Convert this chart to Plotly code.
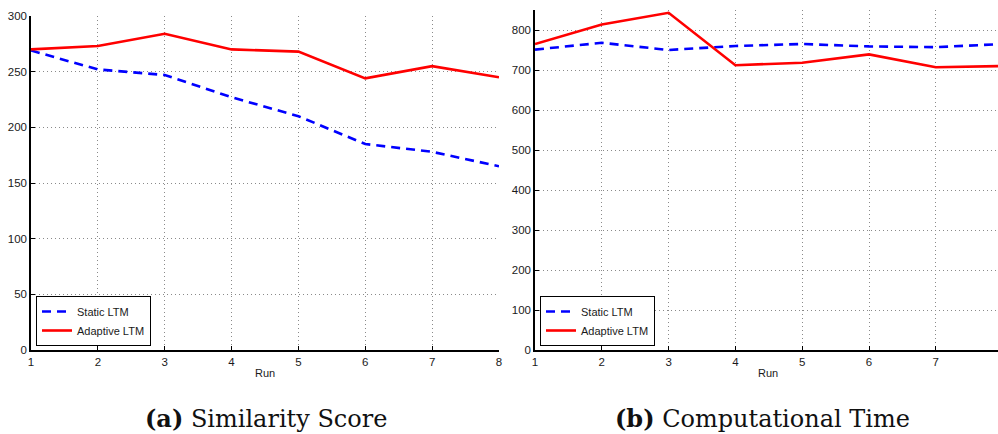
import plotly.graph_objects as go

# Run indices and measured results
runs = [1, 2, 3, 4, 5, 6, 7, 8]
score_static = [269, 252, 247, 227, 210, 185, 178, 165]
score_adaptive = [270, 273, 284, 270, 268, 244, 255, 245]
time_static = [751, 768, 750, 760, 765, 759, 757, 765]
time_adaptive = [765, 814, 843, 712, 718, 739, 707, 710]

score_ticks = [0, 50, 100, 150, 200, 250, 300]
time_ticks = [0, 100, 200, 300, 400, 500, 600, 700, 800]

W, H = 998, 434
BLUE = "#0000ff"
RED = "#ff0000"
SANS = "Liberation Sans, Arial, sans-serif"
TICK_FONT = dict(family=SANS, size=11.5, color="#1a1a1a")
LEGEND_FONT = dict(family=SANS, size=11, color="#1a1a1a")


def py(px):
    return 1 - px / H


def pxw(px):
    return px / W


fig = go.Figure()

fig.add_trace(go.Scatter(x=runs, y=score_static, mode="lines", name="Static LTM",
                         line=dict(color=BLUE, width=2.6, dash="9px,6px"),
                         xaxis="x", yaxis="y", legend="legend"))
fig.add_trace(go.Scatter(x=runs, y=score_adaptive, mode="lines", name="Adaptive LTM",
                         line=dict(color=RED, width=2.6),
                         xaxis="x", yaxis="y", legend="legend"))
fig.add_trace(go.Scatter(x=runs, y=time_static, mode="lines", name="Static LTM",
                         line=dict(color=BLUE, width=2.6, dash="9px,6px"),
                         xaxis="x2", yaxis="y2", legend="legend2"))
fig.add_trace(go.Scatter(x=runs, y=time_adaptive, mode="lines", name="Adaptive LTM",
                         line=dict(color=RED, width=2.6),
                         xaxis="x2", yaxis="y2", legend="legend2"))

axis_common = dict(
    showline=True, linecolor="#000", linewidth=1.5,
    ticks="inside", ticklen=4, tickcolor="#000",
    showgrid=True, gridcolor="#8a8a8a", gridwidth=1, griddash="1px,3px",
    zeroline=False, tickfont=TICK_FONT, automargin=False, mirror=False,
)

legend_common = dict(xanchor="left", yanchor="bottom",
                     bordercolor="#000", borderwidth=1, bgcolor="white",
                     font=LEGEND_FONT, tracegroupgap=0, itemwidth=30)

fig.update_layout(
    width=W, height=H,
    margin=dict(l=0, r=0, t=0, b=0),
    paper_bgcolor="white", plot_bgcolor="white",
    xaxis=dict(domain=[pxw(31), pxw(499)], range=[1, 8], tickvals=runs,
               anchor="y", **axis_common),
    yaxis=dict(domain=[py(350), py(16)], range=[0, 300], tickvals=score_ticks,
               anchor="x", **axis_common),
    xaxis2=dict(domain=[pxw(535), 1.0], range=[1, 1 + 463 / 66.8], tickvals=runs,
                anchor="y2", **axis_common),
    yaxis2=dict(domain=[py(350), py(10)], range=[0, 850], tickvals=time_ticks,
                anchor="x2", **axis_common),
    legend=dict(x=pxw(36), y=py(346), **legend_common),
    legend2=dict(x=pxw(540), y=py(346), **legend_common),
    showlegend=True,
)

for cx in (265, 768):
    fig.add_annotation(text="Run", x=pxw(cx), y=py(373), xref="paper", yref="paper",
                       xanchor="center", yanchor="middle", showarrow=False,
                       font=dict(family=SANS, size=11, color="#1a1a1a"))

CAP_FONT = dict(family="DejaVu Serif, serif", size=24, color="#111")
fig.add_annotation(text="<b>(a)</b> Similarity Score", x=pxw(265.5), y=py(418),
                   xref="paper", yref="paper", xanchor="center", yanchor="middle",
                   showarrow=False, font=CAP_FONT)
fig.add_annotation(text="<b>(b)</b> Computational Time", x=pxw(762.5), y=py(418),
                   xref="paper", yref="paper", xanchor="center", yanchor="middle",
                   showarrow=False, font=CAP_FONT)

fig.write_html("out.html")
